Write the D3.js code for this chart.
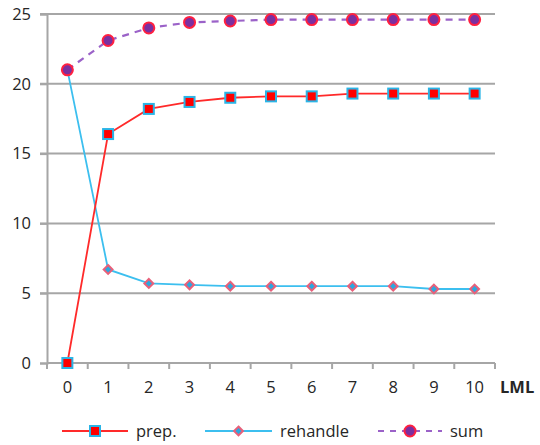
<!DOCTYPE html>
<html>
<head>
<meta charset="utf-8">
<script src="https://cdn.jsdelivr.net/npm/d3@7"></script>
<style>
  html, body { margin: 0; padding: 0; background: #fff; }
  svg text { font-family: "Open Sans", Lato, sans-serif; fill: #262626; }
</style>
</head>
<body>
<svg id="chart" width="540" height="445"></svg>
<script>
// LML levels on the category axis
const categories = [0, 1, 2, 3, 4, 5, 6, 7, 8, 9, 10];
const yTicks = [0, 5, 10, 15, 20, 25];

// series values
const prep     = [0, 16.4, 18.2, 18.7, 19.0, 19.1, 19.1, 19.3, 19.3, 19.3, 19.3];
const rehandle = [21.0, 6.7, 5.7, 5.6, 5.5, 5.5, 5.5, 5.5, 5.5, 5.3, 5.3];
const sum      = [21.0, 23.1, 24.0, 24.4, 24.5, 24.6, 24.6, 24.6, 24.6, 24.6, 24.6];

const svg = d3.select("#chart");
const plotLeft = 47, plotRight = 495, plotTop = 14, plotBottom = 363;
const fontSize = 16.5;

const x = d3.scaleBand().domain(categories).range([plotLeft, plotRight]);
const y = d3.scaleLinear().domain([0, 25]).range([plotBottom, plotTop]);
const cx = d => x(d) + x.bandwidth() / 2;

const gridColor = "#a6a6a6";

// horizontal gridlines with short left ticks
svg.append("g").selectAll("line").data(yTicks.filter(t => t > 0)).join("line")
  .attr("x1", plotLeft - 7).attr("x2", plotRight)
  .attr("y1", d => y(d)).attr("y2", d => y(d))
  .attr("stroke", gridColor).attr("stroke-width", 2);

// y axis
const yAxis = svg.append("g").attr("transform", `translate(${plotLeft},0)`)
  .call(d3.axisLeft(y).tickValues(yTicks).tickSize(7).tickPadding(9));
yAxis.select(".domain").attr("stroke", gridColor).attr("stroke-width", 2);
yAxis.selectAll(".tick line").attr("stroke", gridColor).attr("stroke-width", 2);
yAxis.selectAll("text").attr("font-size", fontSize)
  .style("font-family", "'Open Sans', sans-serif").attr("fill", "#262626");

// x axis with ticks between categories
const xAxisG = svg.append("g").attr("transform", `translate(0,${plotBottom})`);
xAxisG.append("line").attr("x1", plotLeft).attr("x2", plotRight)
  .attr("stroke", gridColor).attr("stroke-width", 2);
const bounds = categories.map(c => x(c)).concat([plotRight]);
xAxisG.selectAll("line.tk").data(bounds).join("line").attr("class", "tk")
  .attr("x1", d => d).attr("x2", d => d).attr("y1", 0).attr("y2", 6)
  .attr("stroke", gridColor).attr("stroke-width", 2);
xAxisG.selectAll("text.lbl").data(categories).join("text").attr("class", "lbl")
  .attr("x", d => cx(d)).attr("y", 30).attr("text-anchor", "middle")
  .attr("font-size", fontSize).text(d => d);
xAxisG.append("text").attr("x", 500).attr("y", 30)
  .attr("font-size", fontSize).attr("font-weight", "bold").text("LML");

const line = d3.line().x((d, i) => cx(categories[i])).y(d => y(d));

// series lines
svg.append("path").datum(rehandle).attr("d", line)
  .attr("fill", "none").attr("stroke", "#3cbfef").attr("stroke-width", 1.8);
svg.append("path").datum(prep).attr("d", line)
  .attr("fill", "none").attr("stroke", "#ff2a2a").attr("stroke-width", 1.8);
svg.append("path").datum(sum).attr("d", line)
  .attr("fill", "none").attr("stroke", "#9b62c8").attr("stroke-width", 2.2)
  .attr("stroke-dasharray", "7,6");

// marker drawers
const square = (g, px, py) => g.append("rect")
  .attr("x", px - 5).attr("y", py - 5).attr("width", 10).attr("height", 10)
  .attr("fill", "#ff0000").attr("stroke", "#2ab4e6").attr("stroke-width", 2);
const diamond = (g, px, py) => g.append("path")
  .attr("d", d3.symbol(d3.symbolDiamond2, 50)())
  .attr("transform", `translate(${px},${py})`)
  .attr("fill", "#2aa8e0").attr("stroke", "#e8607a").attr("stroke-width", 2);
const circle = (g, px, py) => g.append("circle")
  .attr("cx", px).attr("cy", py).attr("r", 5.5)
  .attr("fill", "#7a2fa0").attr("stroke", "#ff2040").attr("stroke-width", 2);

const mk = svg.append("g");
rehandle.forEach((v, i) => diamond(mk, cx(categories[i]), y(v)));
prep.forEach((v, i) => square(mk, cx(categories[i]), y(v)));
sum.forEach((v, i) => circle(mk, cx(categories[i]), y(v)));

// legend
const legendItems = [
  { name: "prep.", x1: 62, x2: 128, color: "#ff2a2a", dash: null, mark: square, w: 1.8 },
  { name: "rehandle", x1: 205, x2: 272, color: "#3cbfef", dash: null, mark: diamond, w: 1.8 },
  { name: "sum", x1: 378, x2: 442, color: "#9b62c8", dash: "6,6", mark: circle, w: 2.2 }
];
const ly = 431;
const lg = svg.append("g");
legendItems.forEach(it => {
  lg.append("line").attr("x1", it.x1).attr("x2", it.x2).attr("y1", ly).attr("y2", ly)
    .attr("stroke", it.color).attr("stroke-width", it.w)
    .attr("stroke-dasharray", it.dash);
  it.mark(lg, (it.x1 + it.x2) / 2, ly);
  lg.append("text").attr("x", it.x2 + 8).attr("y", ly + 6)
    .attr("font-size", fontSize).text(it.name);
});
</script>
</body>
</html>
